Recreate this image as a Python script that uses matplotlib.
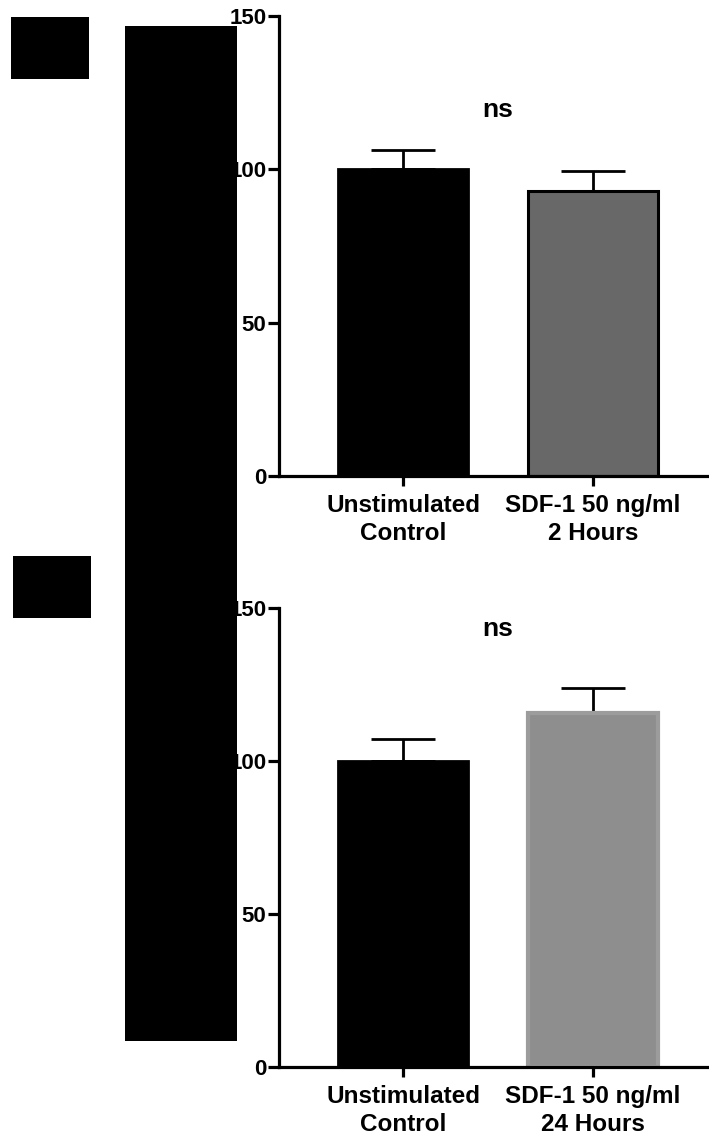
import matplotlib
matplotlib.use("Agg")
import matplotlib.pyplot as plt
from matplotlib.patches import Rectangle

plt.rcParams['font.family'] = ['Liberation Sans', 'DejaVu Sans']
plt.rcParams['font.weight'] = 'bold'

# Data
categories_2h = ["Unstimulated\nControl", "SDF-1 50 ng/ml\n2 Hours"]
means_2h = [100.0, 93.0]
sem_2h = [6.3, 6.6]

categories_24h = ["Unstimulated\nControl", "SDF-1 50 ng/ml\n24 Hours"]
means_24h = [100.0, 115.7]
sem_24h = [7.2, 8.3]

yticks = [0, 50, 100, 150]
ytick_labels = ["0", "50", "100", "150"]
sig_label = "ns"

W, H = 709, 1146
fig = plt.figure(figsize=(W / 100, H / 100), dpi=100)


def make_panel(bottom_px, top_px, cats, means, errs, face2, edge2, lw2):
    left = 279 / W
    ax = fig.add_axes([left, 1 - bottom_px / H, 1 - left, (bottom_px - top_px) / H])
    x = [0, 1]
    ax.errorbar(x, means, yerr=[[0, 0], errs], fmt='none', ecolor='black',
                elinewidth=2.0, capsize=23, capthick=2.0, zorder=1)
    ax.bar(x[0], means[0], width=0.684, color='black', edgecolor='black',
           linewidth=2.0, zorder=2)
    ax.bar(x[1], means[1], width=0.684, color=face2, edgecolor=edge2,
           linewidth=lw2, zorder=2)
    ax.set_xlim(-0.653, 1.61)
    ax.set_ylim(0, 150)
    ax.set_yticks(yticks)
    ax.set_yticklabels(ytick_labels, fontsize=16, fontweight='bold')
    ax.set_xticks(x)
    ax.set_xticklabels(cats, fontsize=17.5, fontweight='bold', linespacing=1.25)
    for s in ['top', 'right']:
        ax.spines[s].set_visible(False)
    for s in ['left', 'bottom']:
        ax.spines[s].set_linewidth(2.3)
        ax.spines[s].set_capstyle('projecting')
    ax.tick_params(axis='y', width=2.3, length=8, pad=1)
    ax.tick_params(axis='x', width=2.3, length=7, pad=6)
    ax.patch.set_alpha(0)
    return ax


ax1 = make_panel(476, 16, categories_2h, means_2h, sem_2h, '#686868', 'black', 2.2)
ax1.text(0.5, 119.5, sig_label, ha='center', va='center', fontsize=19, fontweight='bold')

ax2 = make_panel(1067, 608, categories_24h, means_24h, sem_24h, '#8e8e8e', '#9c9c9c', 3.0)
ax2.text(0.5, 143, sig_label, ha='center', va='center', fontsize=19, fontweight='bold')

# Solid blocks over panel letters and shared axis title
for (x0, y0, x1, y1) in [(11, 17, 89, 79), (13, 556, 91, 618), (125, 26, 237, 1041)]:
    fig.patches.append(Rectangle((x0 / W, 1 - y1 / H), (x1 - x0) / W, (y1 - y0) / H,
                                 transform=fig.transFigure, facecolor='black',
                                 edgecolor='none', zorder=10))

fig.savefig("out.png", dpi=100)
